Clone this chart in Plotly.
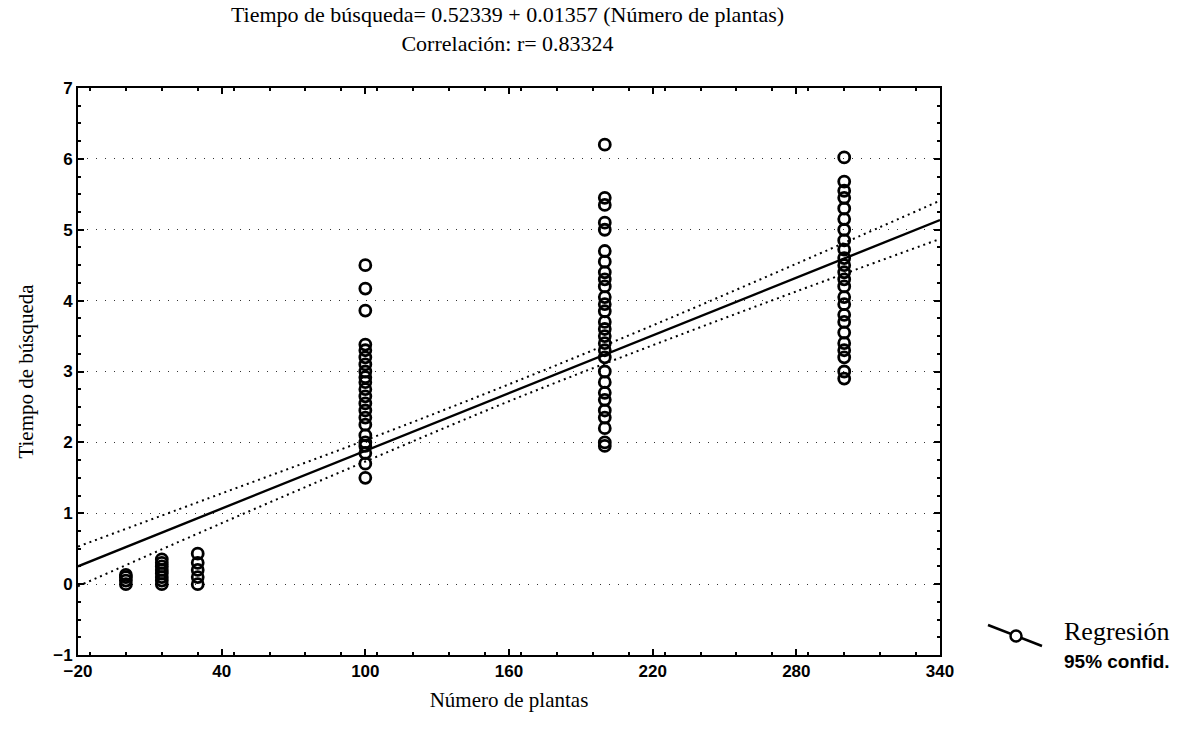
import plotly.graph_objects as go

# Observations: number of plants vs. search time
plants_0 = [0, 0, 0, 0]
time_0 = [0.0, 0.05, 0.1, 0.13]
plants_15 = [15] * 8
time_15 = [0.0, 0.05, 0.1, 0.15, 0.2, 0.25, 0.3, 0.35]
plants_30 = [30] * 5
time_30 = [0.0, 0.1, 0.2, 0.3, 0.43]
plants_100 = [100] * 22
time_100 = [4.5, 4.17, 3.86, 3.38, 3.3, 3.2, 3.1, 3.0, 2.92, 2.85, 2.75, 2.65,
            2.55, 2.45, 2.35, 2.25, 2.1, 2.0, 1.95, 1.85, 1.7, 1.5]
plants_200 = [200] * 28
time_200 = [6.2, 5.45, 5.35, 5.1, 5.0, 4.7, 4.55, 4.4, 4.3, 4.2, 4.05, 3.95,
            3.85, 3.7, 3.6, 3.5, 3.4, 3.3, 3.2, 3.0, 2.85, 2.7, 2.6, 2.45,
            2.35, 2.2, 2.0, 1.95]
plants_300 = [300] * 24
time_300 = [6.02, 5.68, 5.55, 5.45, 5.3, 5.15, 5.0, 4.85, 4.72, 4.6, 4.5, 4.4,
            4.3, 4.2, 4.05, 3.95, 3.8, 3.7, 3.55, 3.4, 3.3, 3.2, 3.0, 2.9]

# Fitted model and 95% confidence limits
intercept = 0.52339
slope = 0.01357
x_range = [-20, 340]
ci_x = [-20, 40, 100, 160, 220, 280, 340]
ci_upper = [0.53, 1.28, 2.03, 2.82, 3.65, 4.52, 5.41]
ci_lower = [-0.03, 0.86, 1.73, 2.58, 3.37, 4.13, 4.87]

y_ticks = [-1, 0, 1, 2, 3, 4, 5, 6, 7]
x_ticks = [-20, 40, 100, 160, 220, 280, 340]

plants = plants_0 + plants_15 + plants_30 + plants_100 + plants_200 + plants_300
times = time_0 + time_15 + time_30 + time_100 + time_200 + time_300

fig = go.Figure()

for band in (ci_upper, ci_lower):
    fig.add_trace(go.Scatter(
        x=ci_x, y=band, mode="lines",
        line=dict(color="black", width=2, dash="2px,4px", shape="spline"),
        showlegend=False, hoverinfo="skip"))
fig.add_trace(go.Scatter(
    x=x_range, y=[intercept + slope * v for v in x_range], mode="lines",
    line=dict(color="black", width=2.4), showlegend=False))
fig.add_trace(go.Scatter(
    x=plants, y=times, mode="markers",
    marker=dict(symbol="circle-open", size=11, color="black", line=dict(width=2.8)),
    showlegend=False))

serif = "Liberation Serif, Times New Roman, serif"
sans = "Liberation Sans, Arial, sans-serif"

axis_common = dict(
    showline=True, linecolor="black", linewidth=2, mirror="ticks",
    ticks="inside", ticklen=6, tickwidth=1.5, tickcolor="black",
    tickfont=dict(family=sans, size=17, color="black", weight="bold"),
    zeroline=False,
    minor=dict(ticks="inside", ticklen=3, tickcolor="black", showgrid=False),
)

fig.update_xaxes(
    range=x_range, tickvals=x_ticks, showgrid=False,
    title=dict(text="Número de plantas", font=dict(family=serif, size=21, color="black"), standoff=12),
    minor_dtick=15, **axis_common)
fig.update_yaxes(
    range=[-1, 7], tickvals=y_ticks,
    showgrid=True, gridcolor="#333", gridwidth=1.2, griddash="1px,8px",
    title=dict(text="Tiempo de búsqueda", font=dict(family=serif, size=21, color="black"), standoff=14),
    minor_dtick=0.25, **axis_common)

fig.update_layout(
    width=1197, height=735,
    margin=dict(l=78, r=257, t=88, b=80),
    paper_bgcolor="white", plot_bgcolor="white",
    title=dict(
        text="Tiempo de búsqueda= 0.52339 + 0.01357 (Número de plantas)<br>Correlación: r= 0.83324",
        font=dict(family=serif, size=22, color="black"),
        x=0.424, xanchor="center", y=0.97, yanchor="top"),
    showlegend=False,
)

# Legend block on the right: slanted line with an open circle, then the labels
fig.add_shape(type="line", xref="paper", yref="paper",
              x0=1.0557, y0=0.0529, x1=1.1183, y1=0.0159,
              line=dict(color="black", width=2.5))
fig.add_shape(type="circle", xref="paper", yref="paper",
              xsizemode="pixel", ysizemode="pixel",
              xanchor=1.0882, yanchor=0.0335, x0=-5.5, x1=5.5, y0=-5.5, y1=5.5,
              fillcolor="white", line=dict(color="black", width=2.5))
fig.add_annotation(xref="paper", yref="paper", x=1.1415, y=0.0406, xanchor="left", yanchor="middle",
                   text="Regresión", showarrow=False,
                   font=dict(family=serif, size=26, color="black"))
fig.add_annotation(xref="paper", yref="paper", x=1.1415, y=-0.0106, xanchor="left", yanchor="middle",
                   text="95% confid.", showarrow=False,
                   font=dict(family=sans, size=19, color="black", weight="bold"))

fig.write_html("out.html")
